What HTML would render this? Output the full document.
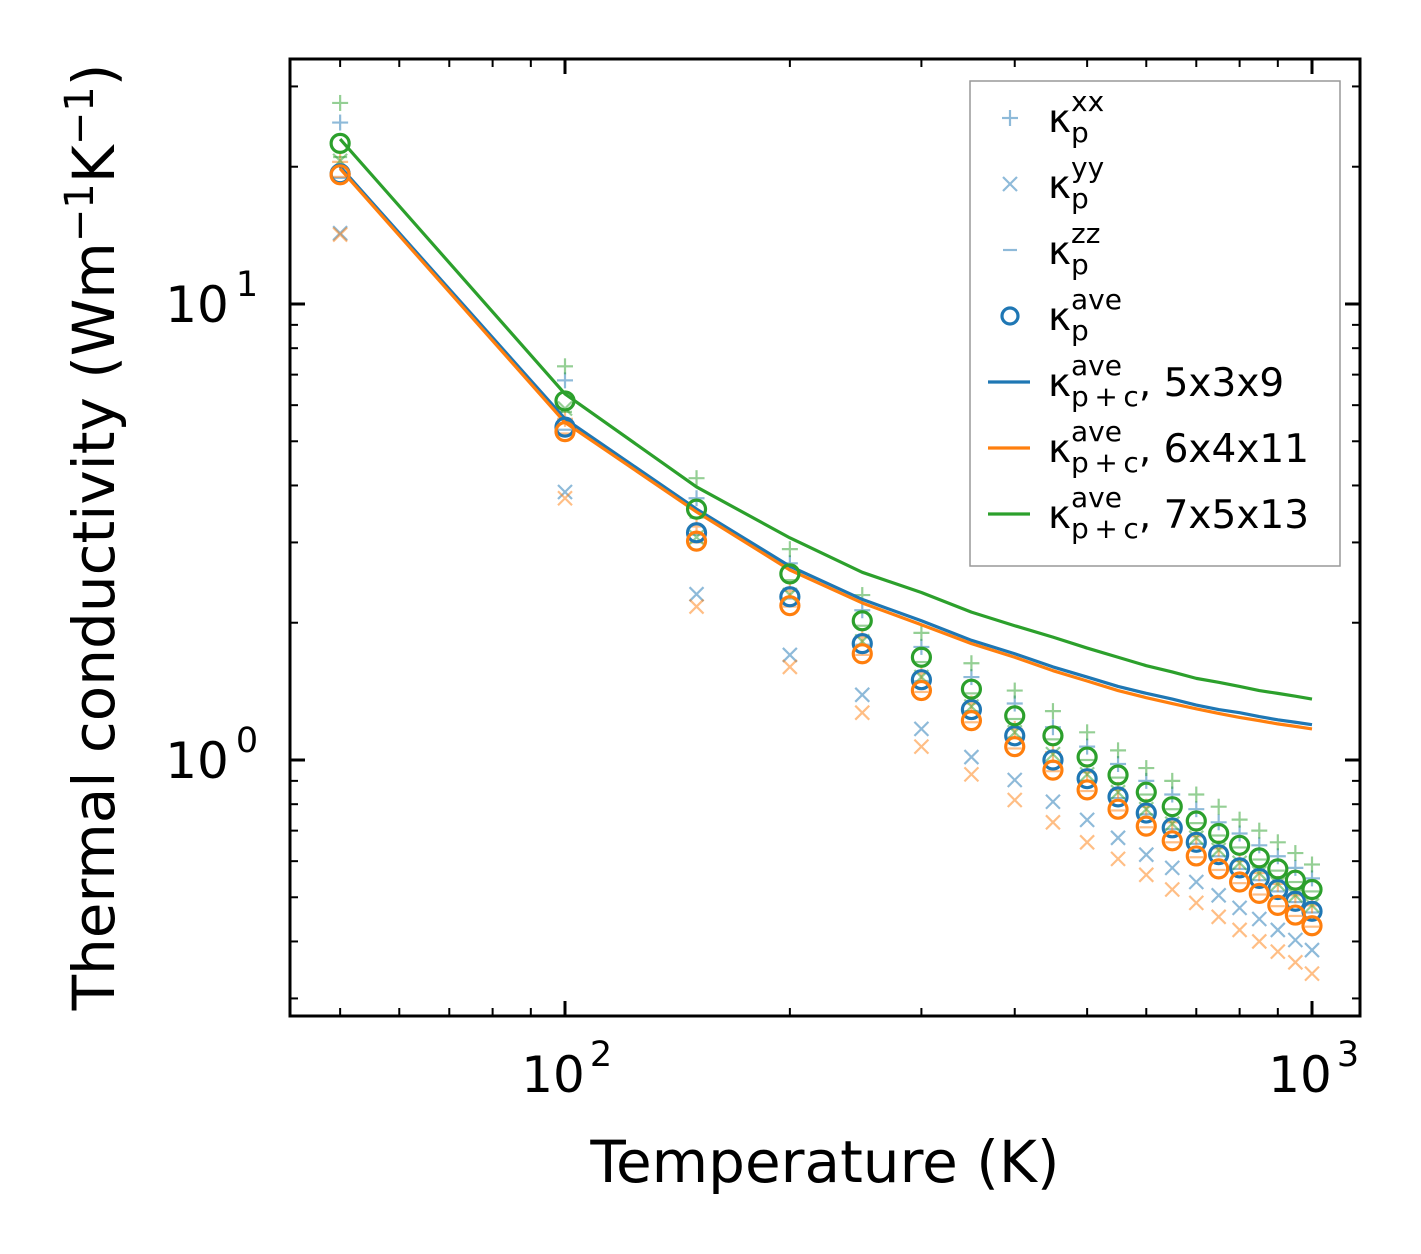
<!DOCTYPE html>
<html><head><meta charset="utf-8"><style>
body{margin:0;background:#fff;}
svg{display:block;font-family:"DejaVu Sans","Liberation Sans",sans-serif;}
</style></head><body>
<svg id="chart" width="1421" height="1254" viewBox="0 0 1421 1254" xmlns="http://www.w3.org/2000/svg">
<rect width="1421" height="1254" fill="#fff"/>
<g id="marks"></g>
<g id="axes"></g>
<g id="legend">
<rect x="970" y="81" width="370" height="485" fill="#fff" stroke="#999" stroke-width="1.5"/>
</g>
</svg>
<script>
const temps=[50,100,150,200,250,300,350,400,450,500,550,600,650,700,750,800,850,900,950,1000];
const blueAve=[19.3,5.37,3.15,2.28,1.80,1.50,1.29,1.13,1.00,0.91,0.83,0.765,0.71,0.66,0.62,0.58,0.55,0.52,0.49,0.466];
const orangeAve=[19.2,5.25,3.02,2.18,1.71,1.42,1.22,1.07,0.95,0.86,0.78,0.716,0.665,0.616,0.577,0.54,0.51,0.48,0.457,0.433];
const greenAve=[22.5,6.13,3.55,2.56,2.02,1.68,1.43,1.25,1.13,1.015,0.927,0.85,0.79,0.735,0.69,0.65,0.61,0.577,0.545,0.52];
const blueXX=[25.0,6.8,3.75,2.7,2.13,1.77,1.52,1.33,1.18,1.07,0.98,0.9,0.84,0.78,0.73,0.69,0.65,0.615,0.58,0.55];
const orangeXX=[20.5,5.6,3.25,2.35,1.86,1.55,1.33,1.17,1.04,0.94,0.86,0.79,0.73,0.68,0.64,0.6,0.565,0.535,0.505,0.48];
const greenXX=[27.6,7.3,4.15,2.9,2.3,1.9,1.63,1.42,1.28,1.15,1.05,0.96,0.9,0.84,0.79,0.74,0.70,0.66,0.625,0.59];
const blueYY=[14.3,3.87,2.31,1.70,1.39,1.17,1.015,0.904,0.81,0.739,0.675,0.62,0.58,0.54,0.505,0.474,0.448,0.424,0.403,0.383];
const orangeYY=[14.2,3.75,2.17,1.60,1.27,1.07,0.93,0.817,0.73,0.66,0.607,0.56,0.52,0.486,0.453,0.424,0.40,0.38,0.36,0.34];
const greenYY=[20.6,5.9,3.08,2.3,1.82,1.52,1.31,1.15,1.03,0.93,0.85,0.78,0.725,0.675,0.635,0.595,0.565,0.535,0.505,0.48];
const blueZZ=[18.9,5.3,3.12,2.26,1.79,1.49,1.28,1.12,0.99,0.90,0.825,0.76,0.705,0.655,0.615,0.577,0.545,0.515,0.488,0.463];
const orangeZZ=[19.0,5.2,3.0,2.17,1.70,1.41,1.21,1.06,0.945,0.855,0.775,0.712,0.66,0.612,0.574,0.537,0.507,0.478,0.455,0.431];
const greenZZ=[21.0,5.8,3.4,2.48,1.97,1.64,1.40,1.23,1.11,1.0,0.915,0.84,0.78,0.727,0.683,0.643,0.605,0.572,0.54,0.515];
const lineTemps=[50,100,150,200,250,300,350,400,450,500,550,600,650,700,750,800,850,900,950,1000];
const blueLine=[20.0,5.6,3.55,2.66,2.25,2.02,1.83,1.71,1.60,1.52,1.45,1.40,1.36,1.32,1.29,1.27,1.245,1.225,1.21,1.195];
const orangeLine=[19.8,5.5,3.5,2.61,2.21,1.98,1.80,1.68,1.57,1.49,1.42,1.37,1.33,1.295,1.265,1.24,1.22,1.20,1.185,1.17];
const greenLine=[23.0,6.35,3.97,3.07,2.58,2.33,2.11,1.97,1.86,1.76,1.68,1.61,1.56,1.51,1.48,1.45,1.42,1.40,1.38,1.36];
const xTickVals=[100,1000];
const xTickLabels=['2','3'];
const yTickVals=[1,10];
const yTickLabels=['0','1'];

const L=290,R=1360,T=59,B=1016;
const xs=v=>565+(Math.log10(v)-2)*747;
const ys=v=>760-Math.log10(v)*456;
const NS='http://www.w3.org/2000/svg';
function mk(tag,attrs,parent){const e=document.createElementNS(NS,tag);for(const k in attrs)e.setAttribute(k,attrs[k]);parent.appendChild(e);return e;}
const C={b:'#1f77b4',o:'#ff7f0e',g:'#2ca02c'};
const marks=document.getElementById('marks');
const axes=document.getElementById('axes');

function plus(x,y,c,p){const g=mk('g',{stroke:c,'stroke-width':2.2,opacity:0.5},p);mk('line',{x1:x-8,y1:y,x2:x+8,y2:y},g);mk('line',{x1:x,y1:y-8,x2:x,y2:y+8},g);return g;}
function cross(x,y,c,p){const g=mk('g',{stroke:c,'stroke-width':2.2,opacity:0.5},p);mk('line',{x1:x-7,y1:y-7,x2:x+7,y2:y+7},g);mk('line',{x1:x-7,y1:y+7,x2:x+7,y2:y-7},g);return g;}
function dash(x,y,c,p){const g=mk('line',{x1:x-7,y1:y,x2:x+7,y2:y,stroke:c,'stroke-width':2.2,opacity:0.5},p);return g;}

const sets=[['blue',C.b,blueXX,blueYY,blueZZ,blueAve,blueLine],['orange',C.o,orangeXX,orangeYY,orangeZZ,orangeAve,orangeLine],['green',C.g,greenXX,greenYY,greenZZ,greenAve,greenLine]];
sets.forEach(([n,c,xx,yy,zz,ave,ln])=>{
  temps.forEach((t,i)=>{
    let e=plus(xs(t),ys(xx[i]),c,marks);
    
    
    e=cross(xs(t),ys(yy[i]),c,marks);
    
    
    e=dash(xs(t),ys(zz[i]),c,marks);
    
    
  });
});
sets.forEach(([n,c,xx,yy,zz,ave,ln])=>{
  const pl=mk('polyline',{points:lineTemps.map((t,i)=>xs(t)+','+ys(ln[i])).join(' '),fill:'none',stroke:c,'stroke-width':3.2,'stroke-linejoin':'round'},marks);
  
  
});
sets.forEach(([n,c,xx,yy,zz,ave])=>{
  temps.forEach((t,i)=>{
    const e=mk('circle',{cx:xs(t),cy:ys(ave[i]),r:9,fill:'none',stroke:c,'stroke-width':3.2},marks);
    
    
  });
});

const fr=mk('rect',{x:L,y:T,width:R-L,height:B-T,fill:'none',stroke:'#000','stroke-width':3},axes);


const xMinor=[50,60,70,80,90,200,300,400,500,600,700,800,900];
xMinor.forEach(v=>{const x=xs(v);mk('line',{x1:x,y1:B,x2:x,y2:B-8,stroke:'#000','stroke-width':2},axes);mk('line',{x1:x,y1:T,x2:x,y2:T+8,stroke:'#000','stroke-width':2},axes);});
xTickVals.forEach((v,i)=>{const x=xs(v);mk('line',{x1:x,y1:B,x2:x,y2:B-15,stroke:'#000','stroke-width':3},axes);mk('line',{x1:x,y1:T,x2:x,y2:T+15,stroke:'#000','stroke-width':3},axes);
  const t=mk('text',{x:x-12,y:1092,'font-size':50,'text-anchor':'middle'},axes);t.textContent='10';
  
  
  const s=mk('text',{x:x+36,y:1066,'font-size':35,'text-anchor':'middle'},axes);s.textContent=xTickLabels[i];});
const yMinor=[0.3,0.4,0.5,0.6,0.7,0.8,0.9,2,3,4,5,6,7,8,9,20,30];
yMinor.forEach(v=>{const y=ys(v);mk('line',{x1:L,y1:y,x2:L+8,y2:y,stroke:'#000','stroke-width':2},axes);mk('line',{x1:R,y1:y,x2:R-8,y2:y,stroke:'#000','stroke-width':2},axes);});
yTickVals.forEach((v,i)=>{const y=ys(v);mk('line',{x1:L,y1:y,x2:L+15,y2:y,stroke:'#000','stroke-width':3},axes);mk('line',{x1:R,y1:y,x2:R-15,y2:y,stroke:'#000','stroke-width':3},axes);
  const t=mk('text',{x:197,y:y+18,'font-size':50,'text-anchor':'middle'},axes);t.textContent='10';
  
  
  const s=mk('text',{x:247,y:y-8,'font-size':35,'text-anchor':'middle'},axes);s.textContent=yTickLabels[i];});
const xl=mk('text',{x:825,y:1182,'font-size':58,'text-anchor':'middle'},axes);xl.textContent='Temperature (K)';


const yl=mk('text',{x:0,y:0,'font-size':58,'text-anchor':'middle',transform:'translate(114,537) rotate(-90)'},axes);
yl.innerHTML='Thermal conductivity (Wm<tspan dy="-21" font-size="40">−1</tspan><tspan dy="21">K</tspan><tspan dy="-21" font-size="40">−1</tspan><tspan dy="21">)</tspan>';



const lg=document.getElementById('legend');
const rows=[['plus',C.b,'xx',''],['cross',C.b,'yy',''],['dash',C.b,'zz',''],['circle',C.b,'ave',''],['line',C.b,'ave',', 5x3x9'],['line',C.o,'ave',', 6x4x11'],['line',C.g,'ave',', 7x5x13']];
rows.forEach((r,i)=>{
  const y=118+i*66;
  const g=mk('g',{},lg);
  
  
  const x=1010;
  if(r[0]==='plus')plus(x,y,r[1],g);
  else if(r[0]==='cross')cross(x,y,r[1],g);
  else if(r[0]==='dash')dash(x,y,r[1],g);
  else if(r[0]==='circle')mk('circle',{cx:x,cy:y,r:8,fill:'none',stroke:r[1],'stroke-width':3.2},g);
  else mk('line',{x1:988,y1:y,x2:1030,y2:y,stroke:r[1],'stroke-width':3.2},g);
  const t=mk('text',{x:1048,y:y+14,'font-size':39},g);
  const sub=i>=4?'p\u2009+\u2009c':'p';
  t.innerHTML='κ<tspan font-size="28" dy="-21">'+r[2]+'</tspan><tspan font-size="28" x="1071" dy="31">'+sub+'</tspan><tspan dy="-10">'+r[3]+'</tspan>';
});
</script>
</body></html>
